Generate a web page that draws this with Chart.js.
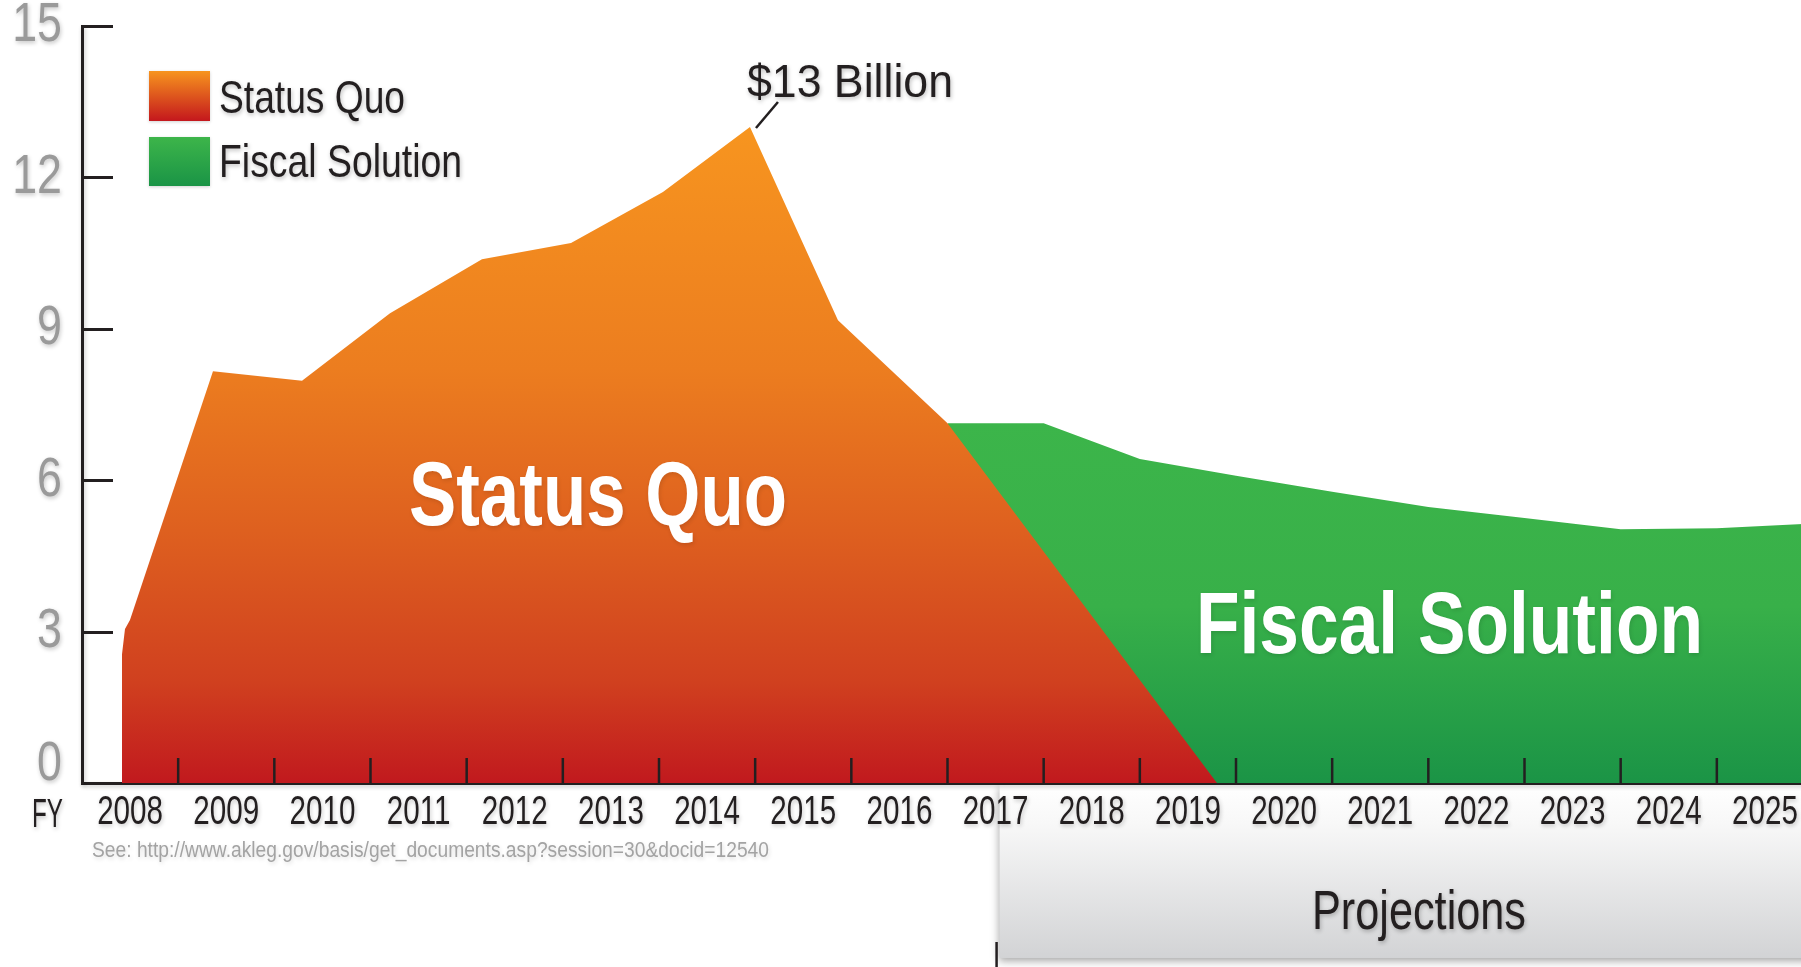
<!DOCTYPE html>
<html>
<head>
<meta charset="utf-8">
<title>Status Quo vs Fiscal Solution</title>
<script src="https://cdn.jsdelivr.net/npm/chart.js@4.4.1/dist/chart.umd.min.js"></script>
<style>
  html, body { margin: 0; padding: 0; background: #ffffff; overflow: hidden; }
  #wrap { position: relative; width: 1830px; height: 967px; }
  canvas { display: block; }
</style>
</head>
<body>
<div id="wrap"><canvas id="chart" width="1830" height="967"></canvas></div>
<script>
// ---- data -------------------------------------------------------------
// Fiscal-year labels along the bottom axis
const fiscalYears = ['2008', '2009', '2010', '2011', '2012', '2013', '2014', '2015', '2016',
                     '2017', '2018', '2019', '2020', '2021', '2022', '2023', '2024', '2025'];

// Status Quo path ($ billions); x is the position on the fiscal-year axis
const statusQuoYears  = [2007.916, 2007.916, 2007.947, 2007.999, 2008.862, 2009.788, 2010.703,
                         2011.659, 2012.585, 2013.541, 2014.446, 2015.361, 2016.5, 2019.302];
const statusQuoValues = [0, 2.55, 3.05, 3.23, 8.16, 7.97, 9.31,
                         10.38, 10.70, 11.71, 13, 9.17, 7.13, 0];

// Fiscal Solution path ($ billions)
const fiscalSolutionYears  = [2016.5, 2017.5, 2018.5, 2019.5, 2020.5, 2021.5, 2022.5, 2023.5, 2024.5, 2025.5];
const fiscalSolutionValues = [7.13, 7.13, 6.42, 6.09, 5.77, 5.47, 5.25, 5.03, 5.05, 5.14];

// Left axis ticks ($ billions)
const valueTicks = [0, 3, 6, 9, 12, 15];

// Boundaries between fiscal years, marked with short ticks on the axis
const yearBoundaries = [2008.5, 2009.5, 2010.5, 2011.5, 2012.5, 2013.5, 2014.5, 2015.5,
                        2016.5, 2017.5, 2018.5, 2019.5, 2020.5, 2021.5, 2022.5, 2023.5, 2024.5];

const peakYear = 2014.446;
const peakValue = 13;
const peakLabel = '$13 Billion';
const projectionStart = 2017;
const sourceNote = 'See: http://www.akleg.gov/basis/get_documents.asp?session=30&docid=12540';

// ---- styling ----------------------------------------------------------
const FONT = '"Liberation Sans", Arial, "Helvetica Neue", Helvetica, sans-serif';
const INK = '#231f20';
// horizontal compression of tick labels, per axis, for a condensed look
const SQUEEZE = { x: 0.74, y: 0.8 };

const STATUS_QUO_STOPS = [[13, '#f7951f'], [8.2, '#ec7d1f'], [5, '#de601f'], [2, '#d0401f'], [0, '#c1191e']];
const FISCAL_STOPS     = [[7.2, '#3cb54a'], [3.5, '#38b049'], [0, '#1b9446']];

const toPoints = (xs, ys) => xs.map((x, i) => ({ x, y: ys[i] }));

// Linear scale whose tick labels are drawn horizontally condensed
class CondensedLinearScale extends Chart.LinearScale {
  drawLabels(chartArea) {
    if (!this.options.ticks.display) return;
    const ctx = this.ctx;
    const squeeze = SQUEEZE[this.id] || 1;
    const items = this.getLabelItems(chartArea);
    items.forEach((item, i) => {
      const o = item.options;
      const tick = this.ticks[i];
      // the lowest value label sits above the bottom axis instead of on it
      const lift = (!this.isHorizontal() && tick && tick.value === this.min) ? -18 : 0;
      ctx.save();
      ctx.translate(o.translation[0], o.translation[1] + lift);
      if (o.rotation) ctx.rotate(o.rotation);
      ctx.scale(squeeze, 1);
      ctx.font = item.font.string;
      ctx.fillStyle = o.color;
      ctx.textAlign = o.textAlign;
      ctx.textBaseline = o.textBaseline;
      ctx.fillText(item.label, 0, item.textOffset);
      ctx.restore();
    });
  }
}
CondensedLinearScale.id = 'condensedLinear';
CondensedLinearScale.defaults = Chart.LinearScale.defaults;
Chart.register(CondensedLinearScale);

// vertical gradient whose stops are given in axis values
function valueGradient(chart, stops) {
  const ys = chart.scales.y;
  const y0 = ys.getPixelForValue(stops[0][0]);
  const y1 = ys.getPixelForValue(stops[stops.length - 1][0]);
  const g = chart.ctx.createLinearGradient(0, y0, 0, y1);
  stops.forEach(([v, c]) => g.addColorStop((ys.getPixelForValue(v) - y0) / (y1 - y0), c));
  return g;
}

// draw text squeezed/stretched horizontally to a given width
function fitText(ctx, text, x, y, size, weight, width, color, shadow) {
  ctx.save();
  ctx.font = `${weight} ${size}px ${FONT}`;
  const w = ctx.measureText(text).width;
  ctx.translate(x, y);
  ctx.scale(width / w, 1);
  ctx.textAlign = 'left';
  ctx.textBaseline = 'alphabetic';
  if (shadow) {
    ctx.shadowColor = shadow;
    ctx.shadowBlur = 4;
    ctx.shadowOffsetX = 1;
    ctx.shadowOffsetY = 2;
  }
  ctx.fillStyle = color;
  ctx.fillText(text, 0, 0);
  ctx.restore();
}

function swatch(ctx, x, y, w, h, top, bottom) {
  const g = ctx.createLinearGradient(0, y, 0, y + h);
  g.addColorStop(0, top);
  g.addColorStop(1, bottom);
  ctx.save();
  ctx.shadowColor = 'rgba(0,0,0,0.18)';
  ctx.shadowBlur = 3;
  ctx.shadowOffsetY = 1;
  ctx.fillStyle = g;
  ctx.fillRect(x, y, w, h);
  ctx.restore();
}

const decor = {
  id: 'decor',
  beforeDraw(chart) {
    const { ctx, scales: { x } } = chart;
    // Projections panel under the later fiscal years
    const left = x.getPixelForValue(projectionStart) + 4;
    const top = 785, bottom = 958;
    ctx.save();
    const g = ctx.createLinearGradient(0, top, 0, bottom);
    g.addColorStop(0, '#ffffff');
    g.addColorStop(0.22, '#f8f8f8');
    g.addColorStop(1, '#d2d3d5');
    ctx.shadowColor = 'rgba(0,0,0,0.35)';
    ctx.shadowBlur = 8;
    ctx.shadowOffsetX = -1;
    ctx.shadowOffsetY = 3;
    ctx.fillStyle = g;
    ctx.fillRect(left, top, chart.width + 20 - left, bottom - top);
    ctx.restore();

    ctx.save();
    ctx.strokeStyle = INK;
    ctx.lineWidth = 2.5;
    ctx.beginPath();
    ctx.moveTo(left - 3, 942);
    ctx.lineTo(left - 3, 970);
    ctx.stroke();
    ctx.restore();

    // soft drop shadow for the axis lines and labels
    ctx.save();
    ctx.shadowColor = 'rgba(0,0,0,0.22)';
    ctx.shadowBlur = 4;
    ctx.shadowOffsetX = 1;
    ctx.shadowOffsetY = 2;
  },
  beforeDatasetsDraw(chart) {
    chart.ctx.restore();
  },
  afterDatasetsDraw(chart) {
    const { ctx, chartArea, scales: { x, y } } = chart;
    ctx.save();
    ctx.strokeStyle = INK;
    // inward tick marks on the value axis
    ctx.lineWidth = 3;
    valueTicks.filter(v => v > 0).forEach(v => {
      const py = Math.round(y.getPixelForValue(v)) + 0.5;
      ctx.beginPath();
      ctx.moveTo(chartArea.left, py);
      ctx.lineTo(chartArea.left + 31, py);
      ctx.stroke();
    });
    // fiscal-year boundary ticks
    ctx.lineWidth = 2.5;
    yearBoundaries.forEach(v => {
      const px = x.getPixelForValue(v);
      ctx.beginPath();
      ctx.moveTo(px, chartArea.bottom);
      ctx.lineTo(px, chartArea.bottom - 25);
      ctx.stroke();
    });
    ctx.restore();
  },
  afterDraw(chart) {
    const { ctx, scales: { x, y } } = chart;
    const shade = 'rgba(0,0,0,0.25)';

    // legend
    swatch(ctx, 149, 71, 61, 50, '#f7941e', '#c4171d');
    swatch(ctx, 149, 137, 61, 49, '#3db54a', '#1a9446');
    fitText(ctx, 'Status Quo', 219, 113, 46, 'normal', 186, INK, shade);
    fitText(ctx, 'Fiscal Solution', 219, 177, 46, 'normal', 243, INK, shade);

    // peak callout
    const px = x.getPixelForValue(peakYear);
    const py = y.getPixelForValue(peakValue);
    ctx.save();
    ctx.strokeStyle = INK;
    ctx.lineWidth = 2.5;
    ctx.beginPath();
    ctx.moveTo(px + 6, py + 1);
    ctx.lineTo(px + 28, py - 25);
    ctx.stroke();
    ctx.restore();
    fitText(ctx, peakLabel, px - 3, py - 30, 46, 'normal', 206, INK, shade);

    // series names inside the areas
    fitText(ctx, 'Status Quo', 409, 525, 90, 'bold', 378, '#ffffff', 'rgba(0,0,0,0.12)');
    fitText(ctx, 'Fiscal Solution', 1196, 653, 88, 'bold', 507, '#ffffff', 'rgba(0,0,0,0.12)');

    // axis caption, source and projections heading
    fitText(ctx, 'FY', 32, 827, 40, 'normal', 31, INK, shade);
    fitText(ctx, sourceNote, 92, 857, 22, 'normal', 677, '#a3a3a3', 'rgba(0,0,0,0.15)');
    fitText(ctx, 'Projections', 1312, 929, 55, 'normal', 214, INK, shade);
  }
};

new Chart(document.getElementById('chart'), {
  type: 'line',
  data: {
    datasets: [
      {
        label: 'Status Quo',
        data: toPoints(statusQuoYears, statusQuoValues),
        fill: 'origin',
        backgroundColor: c => c.chart.chartArea ? valueGradient(c.chart, STATUS_QUO_STOPS) : '#e8731f',
        borderColor: 'rgba(0,0,0,0)',
        borderWidth: 0,
        pointRadius: 0,
        tension: 0
      },
      {
        label: 'Fiscal Solution',
        data: toPoints(fiscalSolutionYears, fiscalSolutionValues),
        fill: 'origin',
        backgroundColor: c => c.chart.chartArea ? valueGradient(c.chart, FISCAL_STOPS) : '#3cb54a',
        borderColor: 'rgba(0,0,0,0)',
        borderWidth: 0,
        pointRadius: 0,
        tension: 0
      }
    ]
  },
  options: {
    responsive: false,
    animation: false,
    devicePixelRatio: 1,
    events: [],
    layout: { padding: { top: 26, right: 17, bottom: 0, left: 0 } },
    plugins: {
      legend: { display: false },
      tooltip: { enabled: false }
    },
    scales: {
      x: {
        type: 'condensedLinear',
        position: 'bottom',
        min: 2007.5,
        max: 2025.5,
        grid: { display: false, drawTicks: false },
        border: { display: true, color: INK, width: 3 },
        ticks: {
          autoSkip: false,
          maxRotation: 0,
          padding: 6,
          color: INK,
          font: { family: FONT, size: 40, lineHeight: 1.2 },
          callback: (v, i) => fiscalYears[i]
        },
        afterBuildTicks: s => { s.ticks = fiscalYears.map(v => ({ value: Number(v) })); },
        afterFit: s => { s.height = 184; s.paddingLeft = 0; s.paddingRight = 0; }
      },
      y: {
        type: 'condensedLinear',
        position: 'left',
        min: 0,
        max: 15,
        grid: { display: false, drawTicks: false },
        border: { display: true, color: INK, width: 3 },
        ticks: {
          padding: 20,
          color: '#9a9a9a',
          font: { family: FONT, size: 56, lineHeight: 1 },
          callback: v => String(v)
        },
        afterBuildTicks: s => { s.ticks = valueTicks.map(v => ({ value: v })); },
        afterFit: s => { s.width = 82; s.paddingTop = 0; s.paddingBottom = 0; }
      }
    }
  },
  plugins: [decor]
});
</script>
</body>
</html>
